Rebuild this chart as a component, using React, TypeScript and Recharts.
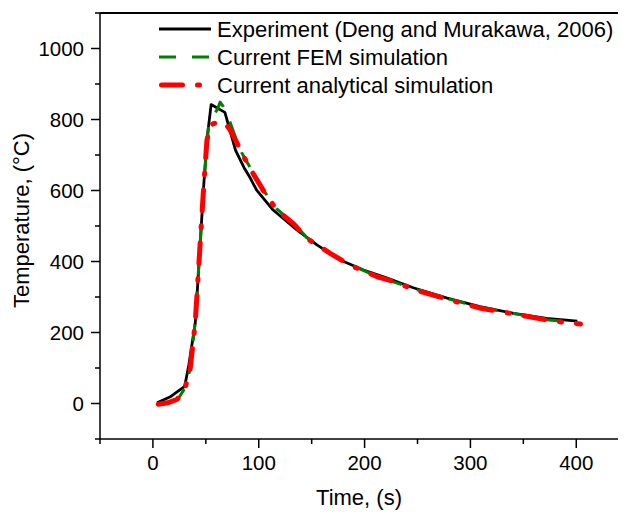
import React from 'react';
import { LineChart, Line, XAxis, YAxis, Legend, ReferenceLine } from 'recharts';

// ---- Data ----
const expTime = [4, 17, 30, 34, 40, 44, 47.7, 51, 55, 68, 78, 86, 92, 98, 113.6, 136, 155, 177, 199, 220, 246, 278, 309, 341, 372, 401];
const expTemp = [2, 20, 48, 110, 227, 413, 601, 742, 842, 820, 714, 665, 635, 601, 545, 489, 447, 404, 376, 355, 326, 297, 273, 254, 240, 232];

const femTime = [5, 15, 24, 30, 35, 40, 44, 48, 52.5, 58, 61.3, 63.5, 66.5, 72, 78, 84, 95, 106, 117, 133, 145.5, 167.5, 186, 212, 230, 250, 280, 310, 345, 372, 395];
const femTemp = [-1, 4, 14, 42, 95, 230, 420, 615, 780, 815, 831, 849, 836, 800, 750, 706, 648, 594, 548, 508, 467, 424, 391, 358, 340, 320, 294, 271, 251, 236, 229];

const anaTime = [5, 14, 23, 30, 35, 40, 44, 48, 51, 54, 58, 62, 67, 72, 78, 84, 95, 106, 117, 133, 145.5, 167.5, 186, 212, 225, 250, 280, 310, 345, 378, 404];
const anaTemp = [-2, 2, 12, 40, 92, 228, 420, 612, 740, 784, 789, 792, 792, 775, 743, 705, 646, 592, 545, 506, 465, 423, 390, 357, 346, 318, 292, 268, 250, 232, 224];

const seriesNames = [
  'Experiment (Deng and Murakawa, 2006)',
  'Current FEM simulation',
  'Current analytical simulation',
];

const xTicks = [-50, 0, 50, 100, 150, 200, 250, 300, 350, 400];
const yTicks = [-100, 0, 100, 200, 300, 400, 500, 600, 700, 800, 900, 1000, 1100];
const xTitle = 'Time, (s)';
const yTitle = 'Temperature, (°C)';

const toPoints = (t: number[], v: number[]) => t.map((x, i) => ({ x, y: v[i] }));
const seriesData = [toPoints(expTime, expTemp), toPoints(femTime, femTemp), toPoints(anaTime, anaTemp)];

const FONT = '"Liberation Sans", Arial, Helvetica, sans-serif';

const styles = [
  { color: '#000000', width: 2.8, dash: undefined as string | undefined, offset: 0, cap: 'butt' as const },
  { color: '#008000', width: 3, dash: '17 16', offset: 18, cap: 'butt' as const },
  { color: '#ff0000', width: 5, dash: '21 15 2 15', offset: 0, cap: 'round' as const },
];

const W = 618;
const H = 504;
const MARGIN = { top: 5, right: 0, left: 0, bottom: 3 };
const Y_AXIS_W = 92;
const X_DOMAIN: [number, number] = [-50, 447];
const Y_DOMAIN: [number, number] = [-100, 1100];

const YTick = (props: any) => {
  const { x, y, payload } = props;
  const axisX = x + 12; // tickSize 8 + tickMargin 4
  const v = payload.value as number;
  const major = v % 200 === 0;
  return (
    <g>
      <line x1={axisX - (major ? 9 : 5)} x2={axisX} y1={y} y2={y} stroke="#000" strokeWidth={1.5} />
      {major && (
        <text x={axisX - 16} y={y} dy={7} textAnchor="end" fontSize={20.5} fontFamily={FONT} fill="#000">
          {v}
        </text>
      )}
    </g>
  );
};

const XTick = (props: any) => {
  const { x, y, payload } = props;
  const axisY = y - 12;
  const v = payload.value as number;
  const major = v % 100 === 0;
  return (
    <g>
      <line x1={x} x2={x} y1={axisY} y2={axisY + (major ? 9 : 5)} stroke="#000" strokeWidth={1.5} />
      {major && (
        <text x={x} y={axisY + 31} textAnchor="middle" fontSize={20.5} fontFamily={FONT} fill="#000">
          {v}
        </text>
      )}
    </g>
  );
};

const renderLegend = () => (
  <svg width={W} height={100} style={{ display: 'block', overflow: 'visible' }}>
    {seriesNames.map((name, i) => {
      const cy = 21 + i * 28;
      const st = styles[i];
      const round = st.cap === 'round';
      return (
        <g key={name}>
          <line
            x1={round ? 153.5 : 151}
            x2={round ? 200.5 : 203}
            y1={cy}
            y2={cy}
            stroke={st.color}
            strokeWidth={st.width}
            strokeDasharray={st.dash}
            strokeLinecap={st.cap}
          />
          <text x={209} y={cy + 8} fontSize={22} fontFamily={FONT} fill="#000">
            {name}
          </text>
        </g>
      );
    })}
  </svg>
);

export default function App() {
  return (
    <div style={{ width: W, height: H }}>
      <LineChart width={W} height={H} margin={MARGIN}>
        <XAxis
          type="number"
          dataKey="x"
          domain={X_DOMAIN}
          ticks={xTicks}
          interval={0}
          height={70}
          tickSize={8}
          tickMargin={4}
          tickLine={false}
          tick={XTick}
          stroke="#000"
          axisLine={{ stroke: '#000', strokeWidth: 1.5 }}
          allowDataOverflow
          label={{
            content: (p: any) => {
              const vb = p.viewBox;
              return (
                <text x={vb.x + vb.width / 2 - 4} y={vb.y + vb.height - 4} textAnchor="middle" fontSize={22} fontFamily={FONT} fill="#000">
                  {xTitle}
                </text>
              );
            },
          }}
        />
        <YAxis
          type="number"
          domain={Y_DOMAIN}
          ticks={yTicks}
          interval={0}
          width={Y_AXIS_W}
          tickSize={8}
          tickMargin={4}
          tickLine={false}
          tick={YTick}
          stroke="#000"
          axisLine={{ stroke: '#000', strokeWidth: 1.5 }}
          allowDataOverflow
          label={{
            content: (p: any) => {
              const vb = p.viewBox;
              const cx = 12.5;
              const cy = vb.y + vb.height / 2 - 5.5;
              return (
                <text x={cx} y={cy} dy={8} transform={`rotate(-90, ${cx}, ${cy})`} textAnchor="middle" fontSize={22} fontFamily={FONT} fill="#000">
                  {yTitle}
                </text>
              );
            },
          }}
        />
        <ReferenceLine y={1100} stroke="#000" strokeWidth={2} ifOverflow="visible" />
        <Legend
          layout="vertical"
          align="center"
          verticalAlign="middle"
          content={renderLegend}
          wrapperStyle={{ left: 0, top: 0, width: W, height: 100, pointerEvents: 'none' }}
        />
        {seriesData.map((d, i) => (
          <Line
            key={seriesNames[i]}
            data={d}
            dataKey="y"
            name={seriesNames[i]}
            type="linear"
            stroke={styles[i].color}
            strokeWidth={styles[i].width}
            strokeDasharray={styles[i].dash}
            strokeDashoffset={styles[i].offset}
            strokeLinecap={styles[i].cap}
            strokeLinejoin="round"
            dot={false}
            activeDot={false}
            isAnimationActive={false}
          />
        ))}
      </LineChart>
    </div>
  );
}
